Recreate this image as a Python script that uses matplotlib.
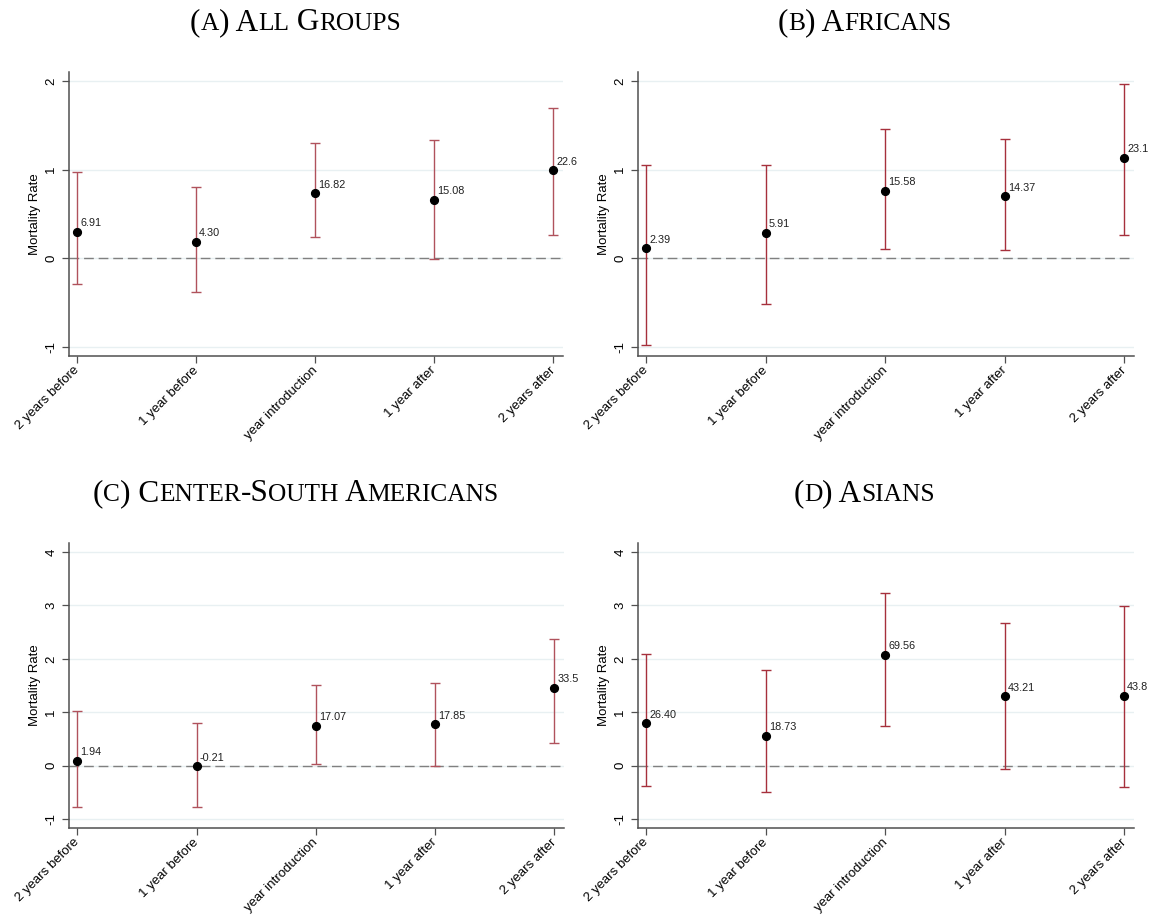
import matplotlib
matplotlib.use("Agg")
import matplotlib.pyplot as plt
from matplotlib.font_manager import FontProperties
from matplotlib.transforms import Bbox, TransformedBbox

# event-time categories on the x axis
categories = ["2 years before", "1 year before", "year introduction",
              "1 year after", "2 years after"]

# (a) all groups
est_all = [0.30, 0.185, 0.735, 0.66, 0.995]
lo_all = [-0.29, -0.375, 0.24, -0.005, 0.26]
hi_all = [0.975, 0.80, 1.30, 1.33, 1.69]
lab_all = ["6.91", "4.30", "16.82", "15.08", "22.6"]

# (b) africans
est_afr = [0.113, 0.29, 0.763, 0.703, 1.135]
lo_afr = [-0.977, -0.511, 0.109, 0.10, 0.263]
hi_afr = [1.056, 1.056, 1.459, 1.35, 1.97]
lab_afr = ["2.39", "5.91", "15.58", "14.37", "23.1"]

# (c) center-south americans
est_csa = [0.088, -0.012, 0.744, 0.775, 1.456]
lo_csa = [-0.775, -0.769, 0.038, -0.006, 0.425]
hi_csa = [1.03, 0.794, 1.51, 1.544, 2.369]
lab_csa = ["1.94", "-0.21", "17.07", "17.85", "33.5"]

# (d) asians
est_asi = [0.794, 0.5625, 2.075, 1.294, 1.3125]
lo_asi = [-0.375, -0.4875, 0.75, -0.0625, -0.406]
hi_asi = [2.094, 1.7875, 3.225, 2.669, 2.994]
lab_asi = ["26.40", "18.73", "69.56", "43.21", "43.8"]

titles = ["(a) All Groups", "(b) Africans",
          "(c) Center-South Americans", "(d) Asians"]

W, H = 1153, 917
fig = plt.figure(figsize=(W / 100, H / 100), dpi=100)
fig.patch.set_facecolor("white")

SANS = "Liberation Sans"
SERIF = "Liberation Serif"
AXCOL = "#505050"


def advance(renderer, s, size):
    # ink width of "|s|" minus "||" gives the advance width of s
    fp = FontProperties(family=SERIF, size=size)
    w1 = renderer.get_text_width_height_descent("|" + s + "|", fp, ismath=False)[0]
    w2 = renderer.get_text_width_height_descent("||", fp, ismath=False)[0]
    return w1 - w2


def small_caps_title(cx, base_y, text, big=22.5, small=18.3):
    # lowercase letters become small capitals, everything else full size
    renderer = fig.canvas.get_renderer()
    runs = []
    for ch in text:
        is_small = ch.islower()
        if runs and runs[-1][1] == is_small:
            runs[-1][0] += ch
        else:
            runs.append([ch, is_small])
    pieces = []
    for chunk, is_small in runs:
        size = small if is_small else big
        t = fig.text(0, 1 - base_y / H, chunk.upper(), fontsize=size,
                     family=SERIF, va="baseline", ha="left")
        pieces.append((t, advance(renderer, chunk.upper(), size)))
    total = sum(w for _, w in pieces)
    x = cx - total / 2
    for t, w in pieces:
        t.set_x(x / W)
        x += w


def panel(rect, est, lo, hi, labels, ylim, yticks, bar_color, clip_right):
    left, top, right, bottom = rect
    ax = fig.add_axes([left / W, 1 - bottom / H, (right - left) / W,
                       (bottom - top) / H])
    x = list(range(1, len(categories) + 1))
    for yt in yticks:
        ax.axhline(yt, color="#e8f0f2", lw=1.0, zorder=0)
    ax.axhline(0, color="#808080", lw=1.0, dashes=(7, 3.5), zorder=1)
    yerr = [[e - l for e, l in zip(est, lo)], [h - e for e, h in zip(est, hi)]]
    ax.errorbar(x, est, yerr=yerr, fmt="none", ecolor=bar_color,
                elinewidth=1.0, capsize=3.4, capthick=1.0, zorder=2)
    ax.plot(x, est, "o", color="black", markersize=5.6, zorder=3)
    clip = TransformedBbox(Bbox([[0, 0], [clip_right / W, 1]]), fig.transFigure)
    for xi, yi, lab in zip(x, est, labels):
        t = ax.annotate(lab, (xi, yi), xytext=(2, 2.5), textcoords="offset points",
                        ha="left", va="bottom", fontsize=7.8, family=SANS,
                        color="#202020", annotation_clip=False)
        t.set_clip_on(True)
        t.set_clip_box(clip)
    ax.set_xlim(0.925, 5.08)
    ax.set_ylim(*ylim)
    ax.set_xticks(x)
    ax.set_xticklabels(categories, rotation=45, ha="right", va="center",
                       rotation_mode="anchor", fontsize=9.5, family=SANS)
    ax.set_yticks(yticks)
    ax.set_yticklabels([str(v) for v in yticks], rotation=90, va="center",
                       fontsize=9.5, family=SANS)
    ax.set_ylabel("Mortality Rate", fontsize=9.5, family=SANS, labelpad=3)
    for s in ["top", "right"]:
        ax.spines[s].set_visible(False)
    for s in ["left", "bottom"]:
        ax.spines[s].set_color(AXCOL)
        ax.spines[s].set_linewidth(1.1)
    ax.tick_params(axis="both", direction="out", length=5, width=0.9,
                   color=AXCOL, pad=3)
    ax.tick_params(axis="x", pad=4)
    return ax


panel((68.5, 72, 563, 356), est_all, lo_all, hi_all, lab_all,
      (-1.1, 2.1), [-1, 0, 1, 2], "#b0525c", 578)
panel((637.5, 72, 1134, 356), est_afr, lo_afr, hi_afr, lab_afr,
      (-1.1, 2.1), [-1, 0, 1, 2], "#a6303c", W)
panel((68.5, 543, 564, 828), est_csa, lo_csa, hi_csa, lab_csa,
      (-1.17, 4.17), [-1, 0, 1, 2, 3, 4], "#b0525c", 578)
panel((637.5, 543, 1134, 828), est_asi, lo_asi, hi_asi, lab_asi,
      (-1.17, 4.17), [-1, 0, 1, 2, 3, 4], "#a6303c", W)

small_caps_title(295.5, 30, titles[0])
small_caps_title(864.5, 30, titles[1])
small_caps_title(295.5, 501, titles[2])
small_caps_title(864.5, 501, titles[3])

fig.savefig("out.png", dpi=100, facecolor="white")
